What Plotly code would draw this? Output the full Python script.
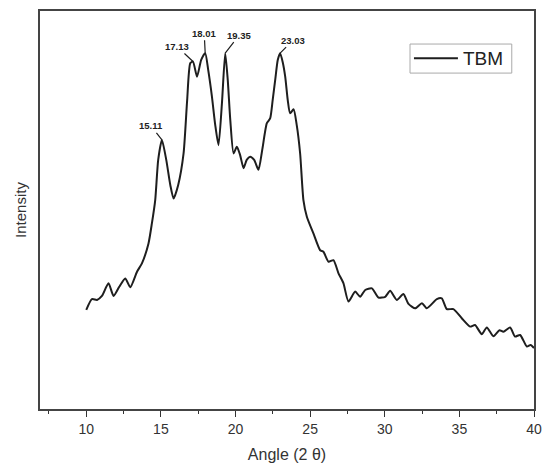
import plotly.graph_objects as go

angle = [10.0, 10.38, 10.72, 11.05, 11.49, 11.83, 12.21, 12.61, 12.95, 13.40, 13.73, 14.17, 14.40, 14.62,
         14.82, 15.07, 15.36, 15.63, 15.85, 16.16, 16.52, 16.76, 16.97, 17.15, 17.42, 17.70, 17.97, 18.17,
         18.42, 18.64, 18.86, 19.09, 19.31, 19.48, 19.65, 19.87, 20.09, 20.31, 20.54, 20.75, 20.98, 21.25,
         21.54, 21.79, 22.10, 22.32, 22.49, 22.66, 22.83, 22.99, 23.16, 23.33, 23.50, 23.66, 23.89, 24.10,
         24.33, 24.55, 24.78, 25.22, 25.67, 25.89, 26.23, 26.56, 26.90, 27.23, 27.57, 28.02, 28.35, 28.69,
         29.14, 29.58, 30.03, 30.36, 30.81, 31.25, 31.59, 32.04, 32.49, 32.82, 33.49, 33.82, 34.16, 34.60,
         35.16, 35.72, 36.05, 36.50, 36.84, 37.28, 37.68, 37.95, 38.40, 38.73, 39.07, 39.52, 39.78, 40.0]
intensity = [24.9, 27.6, 27.4, 28.4, 31.6, 28.4, 30.7, 32.8, 30.6, 34.5, 36.6, 41.6, 46.7, 52.5,
             62.6, 67.6, 62.6, 56.3, 52.9, 56.3, 64.2, 77.6, 86.9, 87.3, 83.5, 87.7, 89.4, 85.2,
             78.5, 71.4, 66.3, 76.8, 89.4, 82.7, 72.6, 64.2, 65.9, 63.8, 60.5, 62.6, 63.4, 62.6,
             60.1, 65.1, 71.8, 73.0, 77.6, 82.7, 87.7, 89.4, 87.2, 83.5, 77.6, 74.3, 75.3, 71.4,
             64.2, 52.5, 48.3, 44.1, 39.9, 39.5, 37.0, 37.4, 34.1, 31.6, 27.0, 29.5, 28.2, 29.9,
             30.3, 28.0, 28.2, 29.7, 27.4, 28.9, 26.4, 25.3, 26.6, 25.3, 27.6, 27.8, 25.1, 25.1,
             22.8, 20.7, 21.1, 18.8, 20.5, 18.3, 19.8, 19.4, 20.5, 18.2, 18.6, 15.7, 16.1, 15.3]

peak_angles = [15.07, 17.15, 17.97, 19.31, 22.99]
peak_values = [67.6, 87.3, 89.4, 89.4, 89.4]
peak_labels = ["15.11", "17.13", "18.01", "19.35", "23.03"]
label_offsets = [(-11, -14), (-16, -15), (-1, -20), (14, -18), (13, -13)]

series_name = "TBM"
line_color = "#1e1e1e"

fig = go.Figure()
fig.add_trace(go.Scatter(x=angle, y=intensity, mode="lines", name=series_name, showlegend=False,
                         line=dict(color=line_color, width=2, shape="spline", smoothing=0.6)))

for px, pv, lab, (ax, ay) in zip(peak_angles, peak_values, peak_labels, label_offsets):
    fig.add_annotation(x=px, y=pv, text="<b>%s</b>" % lab, showarrow=True, arrowhead=0,
                       arrowwidth=1.2, arrowcolor=line_color, ax=ax, ay=ay, standoff=0,
                       font=dict(size=9.5, color="#222", family="Liberation Sans"))

# legend box drawn in paper coordinates
fig.add_shape(type="rect", xref="paper", yref="paper", x0=0.749, x1=0.955, y0=0.844, y1=0.917,
              line=dict(color="#aaa", width=1), fillcolor="white", layer="above")
fig.add_shape(type="line", xref="paper", yref="paper", x0=0.757, x1=0.846, y0=0.881, y1=0.881,
              line=dict(color=line_color, width=2), layer="above")
fig.add_annotation(xref="paper", yref="paper", x=0.852, y=0.881, xanchor="left", yanchor="middle",
                   text=series_name, showarrow=False,
                   font=dict(size=19, color="#222", family="Liberation Sans"))

fig.update_layout(
    width=542, height=472,
    margin=dict(l=40, r=8, t=11, b=63),
    paper_bgcolor="white", plot_bgcolor="white",
    font=dict(family="Liberation Sans, Arial, sans-serif", color="#333"),
    showlegend=False,
    xaxis=dict(range=[6.9, 40], tick0=0, dtick=5, ticks="outside", ticklen=6, tickwidth=1.2,
               tickcolor="#333", showline=True, linecolor="#444", linewidth=1.5, mirror=True,
               showgrid=False, zeroline=False, tickfont=dict(size=14, color="#333"),
               automargin=False,
               minor=dict(dtick=2.5, tick0=0, ticks="outside", ticklen=3, tickcolor="#333"),
               title=dict(text="Angle (2 θ)", font=dict(size=16, color="#333"), standoff=13)),
    yaxis=dict(range=[0, 100], showticklabels=False, ticks="", showline=True, linecolor="#444",
               linewidth=1.5, mirror=True, showgrid=False, zeroline=False, automargin=False,
               title=dict(text="Intensity", font=dict(size=15, color="#333"), standoff=8)),
)

fig.write_html("out.html", config={"displayModeBar": False},
               post_script="document.body.style.margin='0';document.body.style.overflow='hidden';")
